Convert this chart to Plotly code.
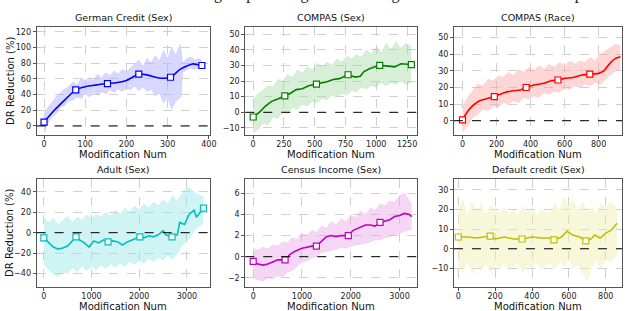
import plotly.graph_objects as go

# ---------------- data ----------------
titles = ["German Credit (Sex)", "COMPAS (Sex)", "COMPAS (Race)",
          "Adult (Sex)", "Census Income (Sex)", "Default credit (Sex)"]
header_text = "e trained on the same test set. Higher percentages indicate a greater reduction in DR compared to"

# German Credit
gc_x = [0, 25, 50, 77, 100, 125, 154, 175, 200, 230, 250, 280, 307, 330, 360, 383]
gc_y = [5, 20, 33, 46, 50, 52, 54, 55, 58, 66, 65, 61, 62, 72, 79, 77]
gc_mx = [0, 77, 154, 230, 307, 383]
gc_my = [5, 46, 54, 66, 62, 77]
gc_bx = [0, 10, 20, 30, 40, 50, 60, 70, 80, 90, 100, 110, 120, 130, 140, 150, 160, 170, 180, 190,
         200, 210, 220, 230, 240, 250, 260, 270, 280, 290, 300, 310, 320, 330, 333,
         336, 345, 355, 365, 375, 383]
gc_up = [15, 24, 30, 38, 42, 47, 50, 56, 52, 60, 58, 62, 58, 66, 61, 68, 64, 70, 66, 72,
         69, 74, 79, 84, 76, 86, 80, 90, 82, 96, 86, 100, 90, 104, 96,
         80, 85, 88, 84, 86, 84]
gc_lo = [-10, 4, 12, 16, 24, 26, 32, 33, 37, 35, 41, 37, 43, 39, 44, 41, 46, 43, 47, 44,
         48, 46, 51, 45, 50, 44, 47, 38, 42, 30, 36, 22, 32, 36, 40,
         68, 71, 74, 72, 74, 72]

# COMPAS (Sex)
cs_x = [0, 50, 100, 150, 200, 257, 300, 350, 400, 450, 514, 600, 650, 700, 771, 830, 870, 900,
        950, 1000, 1028, 1100, 1150, 1200, 1250, 1285]
cs_y = [-3, 0, 4, 7, 8.5, 10.5, 12, 14.5, 15, 17, 18, 19.5, 21, 21.5, 24, 22.5, 23, 26,
        28, 29, 30, 29.5, 29, 31, 30.5, 30.5]
cs_mx = [0, 257, 514, 771, 1028, 1285]
cs_my = [-3, 10.5, 18, 24, 30, 30.5]
cs_bx = [0, 40, 80, 120, 160, 200, 240, 280, 320, 360, 400, 440, 480, 520, 560, 600, 640, 680,
         720, 760, 800, 840, 880, 920, 960, 1000, 1040, 1080, 1120, 1160, 1200, 1240, 1285]
cs_up = [8, 12, 14, 17, 16, 21, 20, 24, 22, 27, 25, 29, 27, 31, 29, 32, 30, 34, 32, 36,
         34, 37, 35, 40, 37, 42, 38, 44, 40, 45, 41, 44, 42]
cs_lo = [-13, -11, -7, -8, -3, -4, 0, -1, 3, 2, 5, 4, 7, 6, 9, 8, 11, 10, 12, 11,
         14, 13, 16, 15, 17, 16, 19, 17, 19, 18, 20, 18, 19]

# COMPAS (Race)
cr_x = [0, 20, 50, 100, 150, 187, 250, 300, 340, 374, 420, 480, 520, 561, 600, 650, 700, 748,
        800, 830, 870, 900, 928]
cr_y = [0.5, 4, 8, 12, 13.5, 14.5, 17, 18, 18.5, 20, 21.5, 22.5, 24, 24.5, 25.5, 26, 27.5, 28,
        28.5, 30, 35, 37.5, 38.5]
cr_mx = [0, 187, 374, 561, 748]
cr_my = [0.5, 14.5, 20, 24.5, 28]
cr_bx = [0, 30, 60, 90, 120, 150, 180, 210, 240, 270, 300, 330, 360, 390, 420, 450, 480, 510,
         540, 570, 600, 630, 660, 690, 720, 750, 780, 810, 840, 870, 900, 928]
cr_up = [8, 14, 18, 22, 21, 25, 24, 27, 26, 29, 27, 31, 29, 32, 30, 33, 31, 34, 32, 35,
         33, 36, 34, 36, 35, 38, 36, 40, 42, 44, 46, 45]
cr_lo = [-7, -3, 2, 4, 7, 6, 9, 8, 11, 10, 12, 11, 14, 13, 15, 14, 17, 16, 18, 17,
         20, 19, 21, 20, 22, 21, 23, 22, 25, 28, 30, 31]

# Adult (Sex)
ad_x = [0, 100, 200, 300, 400, 500, 600, 675, 750, 850, 950, 1050, 1150, 1250, 1348, 1450,
        1550, 1650, 1750, 1850, 2014, 2100, 2200, 2300, 2400, 2500, 2560, 2688, 2800, 2850,
        2950, 3050, 3150, 3200, 3250, 3347]
ad_y = [-5, -10, -14, -16, -15, -13, -8, -4, -7, -10, -14, -8, -10, -7, -9, -8,
        -9, -12, -9, -7, -4, -5, -3, -4, -2, 2, -2, -4, -2, 10,
        8, 18, 22, 15, 18, 24]
ad_mx = [0, 675, 1348, 2014, 2688, 3347]
ad_my = [-5, -4, -9, -4, -4, 24]
ad_bx = [0, 100, 200, 300, 400, 500, 600, 700, 800, 900, 1000, 1100, 1200, 1300, 1400, 1500,
         1600, 1700, 1800, 1900, 2000, 2100, 2200, 2300, 2400, 2500, 2600, 2700, 2800, 2900,
         3000, 3100, 3200, 3347]
ad_up = [15, 10, 14, 8, 12, 16, 10, 15, 12, 17, 14, 18, 15, 20, 16, 22, 18, 24, 20, 26,
         22, 28, 24, 30, 26, 32, 28, 36, 30, 38, 44, 42, 38, 35]
ad_lo = [-30, -36, -40, -43, -38, -40, -34, -38, -32, -37, -33, -36, -31, -35, -30, -34,
         -29, -33, -28, -31, -27, -30, -25, -28, -24, -27, -22, -26, -20, -12,
         -8, -2, 4, 10]

# Census Income (Sex)
ci_x = [0, 100, 200, 300, 400, 500, 654, 750, 850, 1000, 1100, 1200, 1296, 1400, 1500, 1600,
        1700, 1800, 1950, 2050, 2200, 2300, 2400, 2500, 2600, 2700, 2800, 2900, 3000, 3100,
        3200, 3250]
ci_y = [-0.45, -0.7, -0.8, -0.7, -0.5, -0.3, -0.3, 0.2, 0.5, 0.8, 0.9, 1.0, 1.0, 1.5, 1.9, 2.0,
        1.9, 2.0, 2.0, 2.5, 2.8, 3.0, 3.0, 2.9, 3.25, 3.4, 3.5, 3.8, 3.9, 4.1,
        4.0, 3.8]
ci_mx = [0, 654, 1296, 1950, 2600]
ci_my = [-0.45, -0.3, 1.0, 2.0, 3.25]
ci_bx = [0, 100, 200, 300, 400, 500, 600, 700, 800, 900, 1000, 1100, 1200, 1300, 1400, 1500,
         1600, 1700, 1800, 1900, 2000, 2100, 2200, 2300, 2400, 2500, 2600, 2700, 2800, 2900,
         3000, 3100, 3250]
ci_up = [0.8, 0.6, 0.9, 0.7, 1.1, 1.0, 1.4, 1.3, 1.8, 1.6, 2.2, 2.0, 2.5, 2.3, 2.9, 2.7,
         3.3, 3.0, 3.6, 3.3, 3.9, 3.7, 4.3, 4.0, 4.6, 4.4, 5.0, 4.8, 5.3, 5.1, 5.8, 6.0, 5.0]
ci_lo = [-2.0, -2.2, -2.3, -2.0, -2.1, -1.8, -1.9, -1.5, -1.3, -0.9, -0.5, -0.4, -0.1, 0.0, 0.4, 0.5,
         0.6, 0.7, 0.9, 0.8, 1.0, 1.1, 1.2, 1.3, 1.4, 1.6, 1.6, 1.8, 1.9, 2.1, 2.2, 2.4, 2.6]

# Default credit (Sex)
dc_x = [0, 50, 100, 150, 173, 200, 250, 300, 346, 400, 450, 500, 519, 560, 590, 620, 660, 692,
        720, 740, 770, 800, 830, 862]
dc_y = [6, 6, 5.5, 6, 6.5, 5, 6, 5, 5, 6, 5.5, 5.5, 4.5, 6, 9, 7, 6, 4,
        5, 7, 5.5, 8, 9.5, 13]
dc_mx = [0, 173, 346, 519, 692]
dc_my = [6, 6.5, 5, 4.5, 4]
dc_bx = [0, 25, 50, 75, 100, 125, 150, 175, 200, 225, 250, 275, 300, 325, 350, 375, 400, 425,
         450, 475, 500, 525, 550, 575, 600, 625, 650, 675, 700, 725, 750, 775, 800, 825, 862]
dc_up = [18, 25, 16, 24, 19, 23, 17, 22, 20, 18, 21, 17, 20, 16, 22, 18, 21, 17, 20, 19,
         18, 23, 19, 26, 22, 25, 19, 24, 18, 21, 17, 23, 20, 24, 20]
dc_lo = [-8, -12, -6, -13, -9, -11, -7, -12, -8, -10, -6, -11, -9, -7, -12, -8, -10, -6, -11, -8,
         -7, -10, -6, -9, -5, -10, -8, -12, -16, -9, -6, -10, -5, -7, -3]

# ---------------- styling ----------------
panels = [
    dict(x=gc_x, y=gc_y, mx=gc_mx, my=gc_my, bx=gc_bx, up=gc_up, lo=gc_lo, smooth=True,
         col="#0000ff", band="rgba(175,175,255,0.5)", xr=[-18, 402], yr=[-11.5, 126],
         xt=[0, 100, 200, 300, 400], yt=[0, 20, 40, 60, 80, 100, 120]),
    dict(x=cs_x, y=cs_y, mx=cs_mx, my=cs_my, bx=cs_bx, up=cs_up, lo=cs_lo, smooth=False,
         col="#008000", band="rgba(160,215,160,0.42)", xr=[-64, 1334], yr=[-14.5, 54.5],
         xt=[0, 250, 500, 750, 1000, 1250], yt=[-10, 0, 10, 20, 30, 40, 50]),
    dict(x=cr_x, y=cr_y, mx=cr_mx, my=cr_my, bx=cr_bx, up=cr_up, lo=cr_lo, smooth=True,
         col="#ff0000", band="rgba(255,165,165,0.45)", xr=[-50, 938], yr=[-8.6, 56.4],
         xt=[0, 200, 400, 600, 800], yt=[0, 10, 20, 30, 40, 50]),
    dict(x=ad_x, y=ad_y, mx=ad_mx, my=ad_my, bx=ad_bx, up=ad_up, lo=ad_lo, smooth=False,
         col="#00bfbf", band="rgba(150,228,228,0.45)", xr=[-151, 3478], yr=[-53, 52.4],
         xt=[0, 1000, 2000, 3000], yt=[-40, -20, 0, 20, 40]),
    dict(x=ci_x, y=ci_y, mx=ci_mx, my=ci_my, bx=ci_bx, up=ci_up, lo=ci_lo, smooth=False,
         col="#bf00bf", band="rgba(232,165,232,0.45)", xr=[-162, 3366], yr=[-2.87, 7.36],
         xt=[0, 1000, 2000, 3000], yt=[-2, 0, 2, 4, 6]),
    dict(x=dc_x, y=dc_y, mx=dc_mx, my=dc_my, bx=dc_bx, up=dc_up, lo=dc_lo, smooth=False,
         col="#bfbf00", band="rgba(238,238,170,0.45)", xr=[-23.4, 889], yr=[-19.5, 35.6],
         xt=[0, 200, 400, 600, 800], yt=[-10, 0, 10, 20, 30]),
]

W, H = 640, 311
xdom_px = [(37, 212), (248, 422), (459, 629)]
ydom_px = [(27, 135), (179, 287)]

fig = go.Figure()
FONT = "DejaVu Sans"

for i, p in enumerate(panels):
    r, c = divmod(i, 3)
    n = i + 1
    xa = "x" if n == 1 else f"x{n}"
    ya = "y" if n == 1 else f"y{n}"
    # band
    fig.add_trace(go.Scatter(x=p["bx"], y=p["lo"], mode="lines", line=dict(width=0.6, color=p["band"]),
                             xaxis=xa, yaxis=ya, showlegend=False, hoverinfo="skip"))
    fig.add_trace(go.Scatter(x=p["bx"], y=p["up"], mode="lines", line=dict(width=0.6, color=p["band"]),
                             fill="tonexty", fillcolor=p["band"],
                             xaxis=xa, yaxis=ya, showlegend=False, hoverinfo="skip"))
    # mean line
    line = dict(width=1.6, color=p["col"])
    if p["smooth"]:
        line.update(shape="spline", smoothing=0.6)
    fig.add_trace(go.Scatter(x=p["x"], y=p["y"], mode="lines", line=line,
                             xaxis=xa, yaxis=ya, showlegend=False))
    # markers
    fig.add_trace(go.Scatter(x=p["mx"], y=p["my"], mode="markers",
                             marker=dict(symbol="square", size=6, color="white",
                                         line=dict(width=1.2, color=p["col"])),
                             xaxis=xa, yaxis=ya, showlegend=False))
    x0, x1 = xdom_px[c]
    y0, y1 = ydom_px[r]
    axis_common = dict(showline=True, mirror=True, linecolor="#555555", linewidth=1,
                       ticks="outside", ticklen=3, tickcolor="#555555",
                       showgrid=True, gridcolor="#d0d0d0", griddash="dash", gridwidth=0.6,
                       zeroline=False, tickfont=dict(family=FONT, size=8, color="#222222"))
    fig.update_layout(**{
        ("xaxis" if n == 1 else f"xaxis{n}"): dict(domain=[x0 / W, x1 / W], range=p["xr"],
                                                  tickvals=p["xt"], anchor=ya,
                                                  ticklabelstandoff=-2, **axis_common),
        ("yaxis" if n == 1 else f"yaxis{n}"): dict(domain=[1 - y1 / H, 1 - y0 / H], range=p["yr"],
                                                  tickvals=p["yt"], anchor=xa, **axis_common),
    })
    # zero line
    fig.add_shape(type="line", xref=f"{xa} domain", yref=ya, x0=0, x1=1, y0=0, y1=0,
                  line=dict(color="black", width=1, dash="dash"))
    # title
    fig.add_annotation(text=titles[i], x=(x0 + x1) / 2 / W, y=1 - (y0 - 2) / H, xref="paper", yref="paper",
                       xanchor="center", yanchor="bottom", showarrow=False,
                       font=dict(family=FONT, size=9.5, color="#111111"))
    # x label
    fig.add_annotation(text="Modification Num", x=(x0 + x1) / 2 / W, y=1 - (y1 + 19.5) / H,
                       xref="paper", yref="paper", xanchor="center", yanchor="middle", showarrow=False,
                       font=dict(family=FONT, size=10, color="#111111"))
    if c == 0:
        fig.add_annotation(text="DR Reduction (%)", x=10 / W, y=1 - (y0 + y1) / 2 / H,
                           xref="paper", yref="paper", xanchor="center", yanchor="middle",
                           textangle=-90, showarrow=False,
                           font=dict(family=FONT, size=10, color="#111111"))

# clipped header text from page
fig.add_annotation(text=header_text, x=0.5, y=1 + 6 / H, xref="paper", yref="paper",
                   xanchor="center", yanchor="middle", showarrow=False,
                   font=dict(family="Liberation Serif", size=16, color="#222222"))

fig.update_layout(width=W, height=H, margin=dict(l=0, r=0, t=0, b=0),
                  paper_bgcolor="white", plot_bgcolor="white", showlegend=False)

fig.write_html("out.html", config={"displayModeBar": False},
               post_script="document.body.style.margin='0px';")
